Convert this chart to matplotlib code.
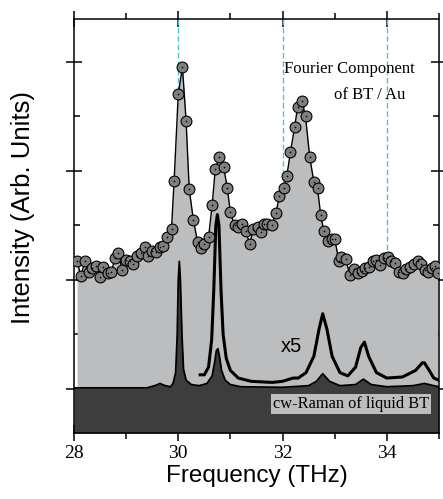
import matplotlib
matplotlib.use("Agg")
import matplotlib.pyplot as plt
from matplotlib.ticker import MultipleLocator, NullFormatter

# Fourier component of BT / Au
fourier_freq = [28.06, 28.13, 28.21, 28.29, 28.35, 28.42, 28.50, 28.56, 28.65, 28.71,
                28.79, 28.85, 28.92, 29.00, 29.08, 29.13, 29.21, 29.29, 29.37, 29.42,
                29.50, 29.58, 29.65, 29.71, 29.79, 29.87, 29.92, 30.00, 30.08, 30.15,
                30.21, 30.29, 30.37, 30.44, 30.50, 30.58, 30.65, 30.71, 30.79, 30.87,
                30.94, 31.00, 31.08, 31.15, 31.23, 31.29, 31.37, 31.44, 31.52, 31.58,
                31.65, 31.71, 31.79, 31.87, 31.94, 32.02, 32.08, 32.15, 32.23, 32.29,
                32.37, 32.44, 32.52, 32.60, 32.67, 32.73, 32.79, 32.87, 32.94, 33.00,
                33.08, 33.13, 33.21, 33.29, 33.37, 33.44, 33.52, 33.58, 33.65, 33.73,
                33.79, 33.87, 33.94, 34.02, 34.08, 34.15, 34.23, 34.31, 34.37, 34.44,
                34.52, 34.60, 34.65, 34.73, 34.79, 34.87, 34.92, 34.98]
fourier_int = [1.17, 1.04, 1.17, 1.07, 1.11, 1.13, 1.03, 1.12, 1.06, 1.07,
               1.20, 1.25, 1.09, 1.18, 1.17, 1.15, 1.22, 1.25, 1.30, 1.22,
               1.27, 1.26, 1.30, 1.31, 1.39, 1.47, 1.91, 2.71, 2.95, 2.46,
               1.83, 1.55, 1.35, 1.29, 1.33, 1.39, 1.69, 2.02, 2.13, 2.04,
               1.84, 1.62, 1.50, 1.49, 1.51, 1.45, 1.33, 1.47, 1.49, 1.44,
               1.51, 1.51, 1.50, 1.61, 1.77, 1.84, 1.95, 2.17, 2.40, 2.59,
               2.64, 2.50, 2.13, 1.90, 1.84, 1.60, 1.45, 1.36, 1.38, 1.38,
               1.17, 1.21, 1.19, 1.05, 1.10, 1.06, 1.08, 1.11, 1.12, 1.17,
               1.18, 1.14, 1.20, 1.21, 1.17, 1.16, 1.07, 1.06, 1.10, 1.12,
               1.15, 1.17, 1.15, 1.09, 1.07, 1.11, 1.13, 1.06]

# cw-Raman of liquid BT
raman_freq = [28.00, 29.40, 29.55, 29.65, 29.75, 29.85, 29.90, 29.95, 29.98, 30.00,
              30.02, 30.04, 30.07, 30.10, 30.15, 30.25, 30.40, 30.55, 30.65, 30.70,
              30.73, 30.76, 30.79, 30.83, 30.90, 31.00, 31.20, 32.00, 32.50, 32.65,
              32.77, 32.90, 33.10, 33.40, 33.55, 33.70, 34.00, 34.50, 34.72, 34.90,
              35.00]
raman_int = [0.01, 0.01, 0.03, 0.05, 0.03, 0.02, 0.05, 0.15, 0.50, 1.00,
             1.17, 1.00, 0.50, 0.18, 0.08, 0.04, 0.03, 0.05, 0.12, 0.25,
             0.35, 0.37, 0.30, 0.17, 0.08, 0.04, 0.02, 0.015, 0.03, 0.07,
             0.14, 0.07, 0.03, 0.04, 0.09, 0.04, 0.02, 0.03, 0.05, 0.03,
             0.02]

# same spectrum magnified x5
x5_freq = [30.42, 30.50, 30.58, 30.64, 30.68, 30.72, 30.75, 30.78, 30.82, 30.86,
           30.92, 31.00, 31.15, 31.40, 31.80, 32.00, 32.20, 32.30, 32.45, 32.60,
           32.70, 32.77, 32.85, 32.95, 33.10, 33.25, 33.40, 33.50, 33.57, 33.65,
           33.80, 34.00, 34.30, 34.55, 34.68, 34.72, 34.80, 34.90, 35.00]
x5_int = [0.13, 0.13, 0.20, 0.45, 0.90, 1.50, 1.60, 1.50, 0.90, 0.50,
          0.28, 0.17, 0.10, 0.07, 0.06, 0.07, 0.10, 0.10, 0.15, 0.30,
          0.55, 0.69, 0.55, 0.30, 0.15, 0.12, 0.20, 0.38, 0.43, 0.30,
          0.15, 0.10, 0.11, 0.17, 0.24, 0.24, 0.18, 0.10, 0.08]

ref_lines = [30, 32, 34]

serif = "Liberation Serif"
sans = "Liberation Sans"

fig = plt.figure(figsize=(4.43, 4.99), dpi=100)
ax = fig.add_axes([74 / 443, 1 - 433 / 499, 365 / 443, 414 / 499])

ymin, ymax = -0.404, 3.394
ax.set_xlim(28, 35)
ax.set_ylim(ymin, ymax)
ax.set_axisbelow(True)

for xv in ref_lines:
    ax.axvline(xv, color="#4cc4da", lw=1.0, ls=(0, (4, 2)), zorder=0.8)

ax.fill_between(fourier_freq, fourier_int, ymin, color="#bcbdbf", lw=0, zorder=1)
ax.fill_between(raman_freq, raman_int, ymin, color="#3d3d3d", lw=0, zorder=1.2)
ax.plot(raman_freq, raman_int, color="black", lw=1.3, zorder=1.3)
ax.plot(x5_freq, x5_int, color="black", lw=2.2, zorder=1.4)

ax.plot(fourier_freq, fourier_int, "-o", color="black", lw=1.0, ms=7.8,
        mfc="#7f7f7f", mec="black", mew=0.8, zorder=3)
ax.plot(fourier_freq, fourier_int, "o", color="black", ms=1.2, mew=0, zorder=3.1)

ax.text(32.02, 2.90, "Fourier Component", family=serif, fontsize=12)
ax.text(34.35, 2.66, "of BT / Au", family=serif, fontsize=12, ha="right")
ax.text(32.17, 0.39, "x5", family=sans, fontsize=14.5, ha="center", va="center")
ax.text(33.31, -0.135, "cw-Raman of liquid BT", family=serif, fontsize=11.8,
        ha="center", va="center",
        bbox=dict(boxstyle="square,pad=0.12", fc="#bcbdbf", ec="none"))

ax.xaxis.set_major_locator(MultipleLocator(2))
ax.xaxis.set_minor_locator(MultipleLocator(1))
ax.yaxis.set_major_locator(MultipleLocator(1))
ax.yaxis.set_minor_locator(MultipleLocator(0.5))
ax.yaxis.set_major_formatter(NullFormatter())

ax.tick_params(axis="both", which="major", direction="inout", length=12, width=1.1,
               top=True, right=True)
ax.tick_params(axis="x", which="minor", direction="out", length=4.5, width=1.1, top=True)
ax.tick_params(axis="y", which="minor", direction="in", length=4.5, width=1.1, right=True)
ax.tick_params(axis="x", which="major", pad=3, labelsize=14)
for lab in ax.get_xticklabels():
    lab.set_family(serif)
for sp in ax.spines.values():
    sp.set_linewidth(1.1)

ax.set_xlabel("Frequency (THz)", family=sans, fontsize=17.5, labelpad=2)
fig.text(23 / 443, 1 - 208 / 499, "Intensity (Arb. Units)", family=sans, fontsize=18.5,
         rotation=90, ha="center", va="center")

fig.savefig("out.png", dpi=100)
